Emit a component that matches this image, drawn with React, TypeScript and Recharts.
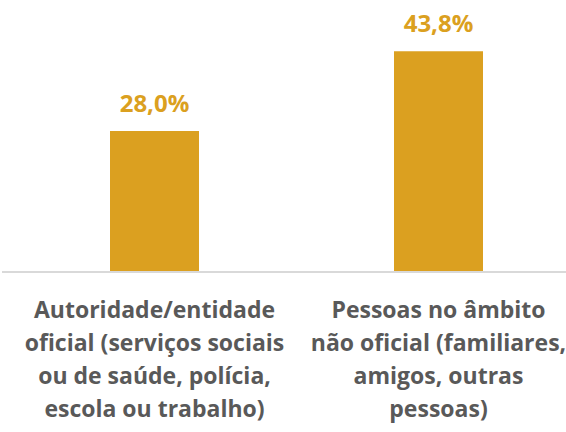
import React from "react";
import { BarChart, Bar, XAxis, YAxis, LabelList } from "recharts";

const categories = [
  "Autoridade/entidade|oficial (serviços sociais|ou de saúde, polícia,|escola ou trabalho)",
  "Pessoas no âmbito|não oficial (familiares,|amigos, outras|pessoas)",
];
const values = [28.0, 43.8];

const data = categories.map((c, i) => ({ name: c, value: values[i] }));

const GOLD = "#DBA020";
const FONT = "'Open Sans', Lato, sans-serif";

const CategoryTick = (props: any) => {
  const { x, y, payload } = props;
  const lines = String(payload.value).split("|");
  return (
    <text
      x={x}
      y={y}
      textAnchor="middle"
      fill="#595959"
      fontFamily={FONT}
      fontWeight={700}
      fontSize={23}
    >
      {lines.map((l, i) => (
        <tspan key={i} x={x} y={y + 38 + i * 33}>
          {l}
        </tspan>
      ))}
    </text>
  );
};

const ValueLabel = (props: any) => {
  const { x, y, width, value } = props;
  return (
    <text
      x={x + width / 2}
      y={y - 19}
      textAnchor="middle"
      fill={GOLD}
      fontFamily={FONT}
      fontWeight={700}
      fontSize={24}
    >
      {value.toFixed(1).replace(".", ",")}%
    </text>
  );
};

export default function App() {
  return (
    <div
      style={{
        position: "absolute",
        left: 0,
        top: 0,
        width: 566,
        height: 432,
        overflow: "hidden",
        background: "#fff",
      }}
    >
      <BarChart
        width={590}
        height={432}
        data={data}
        margin={{ top: 20, right: 0, left: 2, bottom: 0 }}
        barCategoryGap={97.5}
      >
        <YAxis hide domain={[0, 50]} />
        <XAxis
          dataKey="name"
          height={160}
          padding={{ left: 10.5, right: 9.5 }}
          axisLine={{ stroke: "#D9D9D9", strokeWidth: 2 }}
          tickLine={false}
          tick={<CategoryTick />}
          interval={0}
        />
        <Bar dataKey="value" fill={GOLD} isAnimationActive={false}>
          <LabelList dataKey="value" content={<ValueLabel />} />
        </Bar>
      </BarChart>
    </div>
  );
}
